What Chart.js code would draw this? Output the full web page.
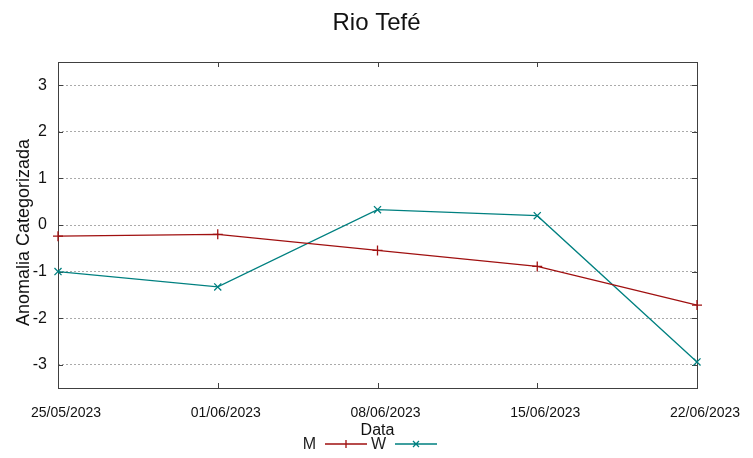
<!DOCTYPE html>
<html>
<head>
<meta charset="utf-8">
<script src="https://cdn.jsdelivr.net/npm/chart.js@4"></script>
<style>
html,body{margin:0;padding:0;background:#fff;}
canvas{display:block;}
</style>
</head>
<body>
<canvas id="c" width="753" height="458"></canvas>
<script>
const categories = ["25/05/2023", "01/06/2023", "08/06/2023", "15/06/2023", "22/06/2023"];
const seriesM = [-0.24, -0.20, -0.545, -0.89, -1.72];
const seriesW = [-1.00, -1.33, 0.33, 0.20, -2.94];
const yTickValues = [-3, -2, -1, 0, 1, 2, 3];
const colorM = "#a01010";
const colorW = "#008080";
const FONT = "'Liberation Sans', Arial, sans-serif";

const framePlugin = {
  id: 'frame',
  beforeDatasetsDraw(chart) {
    const {ctx, chartArea: a, scales} = chart;
    ctx.save();
    ctx.strokeStyle = '#404040';
    ctx.lineWidth = 1;
    const tl = 5;
    ctx.beginPath();
    scales.y.ticks.forEach(t => {
      const y = Math.round(scales.y.getPixelForValue(t.value)) + 0.5;
      ctx.moveTo(a.left, y); ctx.lineTo(a.left + tl, y);
      ctx.moveTo(a.right, y); ctx.lineTo(a.right - tl, y);
    });
    categories.forEach((c, i) => {
      const x = Math.round(scales.x.getPixelForValue(i)) + 0.5;
      ctx.moveTo(x, a.bottom); ctx.lineTo(x, a.bottom - tl);
      ctx.moveTo(x, a.top); ctx.lineTo(x, a.top + tl);
    });
    ctx.stroke();
    ctx.strokeRect(Math.round(a.left) + 0.5, Math.round(a.top) + 0.5,
                   Math.round(a.right - a.left), Math.round(a.bottom - a.top));
    ctx.restore();
  },
  afterDraw(chart) {
    const {ctx} = chart;
    const ds = chart.data.datasets;
    const y = 444;
    ctx.save();
    ctx.font = "16px " + FONT;
    ctx.textAlign = 'right';
    ctx.textBaseline = 'middle';
    const items = [
      {label: ds[0].label, tx: 316, x0: 325, x1: 367, color: ds[0].borderColor, style: 'plus'},
      {label: ds[1].label, tx: 386, x0: 395, x1: 437, color: ds[1].borderColor, style: 'x'}
    ];
    items.forEach(it => {
      ctx.fillStyle = '#222';
      ctx.fillText(it.label, it.tx, y + 1);
      ctx.strokeStyle = it.color;
      ctx.lineWidth = 1.3;
      ctx.beginPath();
      ctx.moveTo(it.x0, y); ctx.lineTo(it.x1, y);
      const m = (it.x0 + it.x1) / 2;
      if (it.style === 'plus') {
        ctx.moveTo(m, y - 4); ctx.lineTo(m, y + 4);
      } else {
        ctx.moveTo(m - 3, y - 3); ctx.lineTo(m + 3, y + 3);
        ctx.moveTo(m - 3, y + 3); ctx.lineTo(m + 3, y - 3);
      }
      ctx.stroke();
    });
    ctx.restore();
  }
};

new Chart(document.getElementById('c'), {
  type: 'line',
  data: {
    labels: categories,
    datasets: [
      {label: 'M', data: seriesM, borderColor: colorM, backgroundColor: colorM,
       borderWidth: 1.3, pointStyle: 'cross', pointRadius: 5, pointBorderWidth: 1.3,
       tension: 0, fill: false},
      {label: 'W', data: seriesW, borderColor: colorW, backgroundColor: colorW,
       borderWidth: 1.3, pointStyle: 'crossRot', pointRadius: 5, pointBorderWidth: 1.3,
       tension: 0, fill: false}
    ]
  },
  options: {
    responsive: false,
    devicePixelRatio: 1,
    animation: false,
    layout: {padding: 0},
    plugins: {
      legend: {display: false},
      tooltip: {enabled: false},
      title: {
        display: true, text: 'Rio Tefé', color: '#111',
        font: {family: FONT, size: 24, weight: 'normal'},
        padding: {top: 9, bottom: 24.2}
      }
    },
    scales: {
      x: {
        type: 'category', offset: false,
        grid: {display: false, drawTicks: false},
        border: {display: false},
        ticks: {color: '#111', font: {family: FONT, size: 14}, padding: 17, labelOffset: 8, maxRotation: 0, autoSkip: false},
        title: {display: true, text: 'Data', color: '#111', font: {family: FONT, size: 16}, padding: {top: 0, bottom: 18}},
        afterFit(s) { s.height = 70; }
      },
      y: {
        min: -3.5, max: 3.5,
        afterBuildTicks(s) { s.ticks = yTickValues.map(v => ({value: v})); },
        grid: {color: '#aaaaaa', drawTicks: false, lineWidth: 1},
        border: {display: false, dash: [2, 2]},
        ticks: {color: '#111', font: {family: FONT, size: 16}, padding: 11},
        title: {display: true, text: 'Anomalia Categorizada   ', color: '#111', font: {family: FONT, size: 18}, padding: {top: 13, bottom: 0}},
        afterFit(s) { s.width = 58; }
      },
      yRight: {
        position: 'right', display: true, min: -3.5, max: 3.5,
        grid: {display: false, drawTicks: false},
        border: {display: false},
        ticks: {display: false},
        afterFit(s) { s.width = 56; }
      }
    }
  },
  plugins: [framePlugin]
});
</script>
</body>
</html>
